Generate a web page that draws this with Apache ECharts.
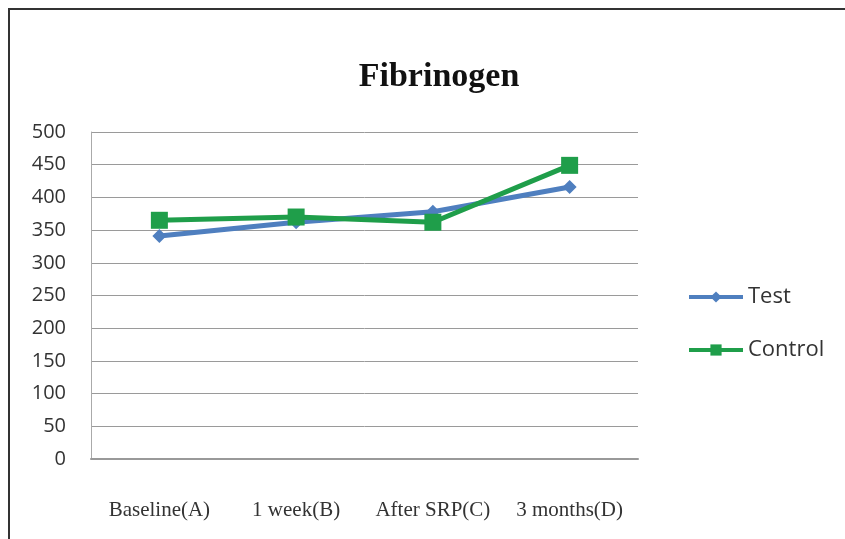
<!DOCTYPE html>
<html><head><meta charset="utf-8">
<script src="https://cdn.jsdelivr.net/npm/echarts@6/dist/echarts.min.js"></script>
<style>html,body{margin:0;padding:0;background:#fff}#c{width:845px;height:539px}</style>
</head><body><div id="c"></div>
<script>
const categories = ['Baseline(A)', '1 week(B)', 'After SRP(C)', '3 months(D)'];
const testValues = [341, 362, 378, 416];
const controlValues = [365, 370, 362, 449];
const seriesNames = ['Test', 'Control'];

const chart = echarts.init(document.getElementById('c'));
chart.setOption({
  animation: false,
  backgroundColor: '#fff',
  graphic: [{
    type: 'rect',
    shape: { x: 9, y: 9, width: 900, height: 600 },
    style: { fill: 'none', stroke: '#333', lineWidth: 2 }
  }],
  title: {
    text: 'Fibrinogen', left: 434, top: 55, textAlign: 'center',
    textStyle: { fontFamily: 'Liberation Serif', fontWeight: 'bold', fontSize: 34, color: '#111' }
  },
  legend: {
    orient: 'vertical', left: 687, top: 286, padding: 0,
    itemWidth: 54, itemHeight: 14, itemGap: 31,
    data: seriesNames,
    lineStyle: { width: 4 },
    textStyle: { fontFamily: 'Open Sans', fontSize: 22, lineHeight: 22, color: '#333' }
  },
  grid: { left: 91, right: 207, top: 132, bottom: 80, containLabel: false },
  xAxis: {
    type: 'category', data: categories, boundaryGap: true,
    axisLine: { lineStyle: { color: '#999', width: 2 } },
    axisTick: { show: false },
    axisLabel: { interval: 0, hideOverlap: false, margin: 41, fontFamily: 'Liberation Serif', fontSize: 21, color: '#333' }
  },
  yAxis: {
    type: 'value', min: 0, max: 500, interval: 50,
    axisLine: { show: true, lineStyle: { color: '#aaa', width: 1 } },
    axisTick: { show: false },
    splitLine: { lineStyle: { color: '#9a9a9a', width: 1 } },
    axisLabel: { margin: 25, fontFamily: 'Open Sans', fontSize: 20, color: '#333' }
  },
  series: [
    { name: 'Test', type: 'line', data: testValues, symbol: 'diamond', symbolSize: 14,
      lineStyle: { color: '#4f7fbf', width: 5 }, itemStyle: { color: '#4f7fbf' } },
    { name: 'Control', type: 'line', data: controlValues, symbol: 'rect', symbolSize: 17,
      lineStyle: { color: '#1f9e4a', width: 5 }, itemStyle: { color: '#1f9e4a' } }
  ]
});
</script></body></html>
